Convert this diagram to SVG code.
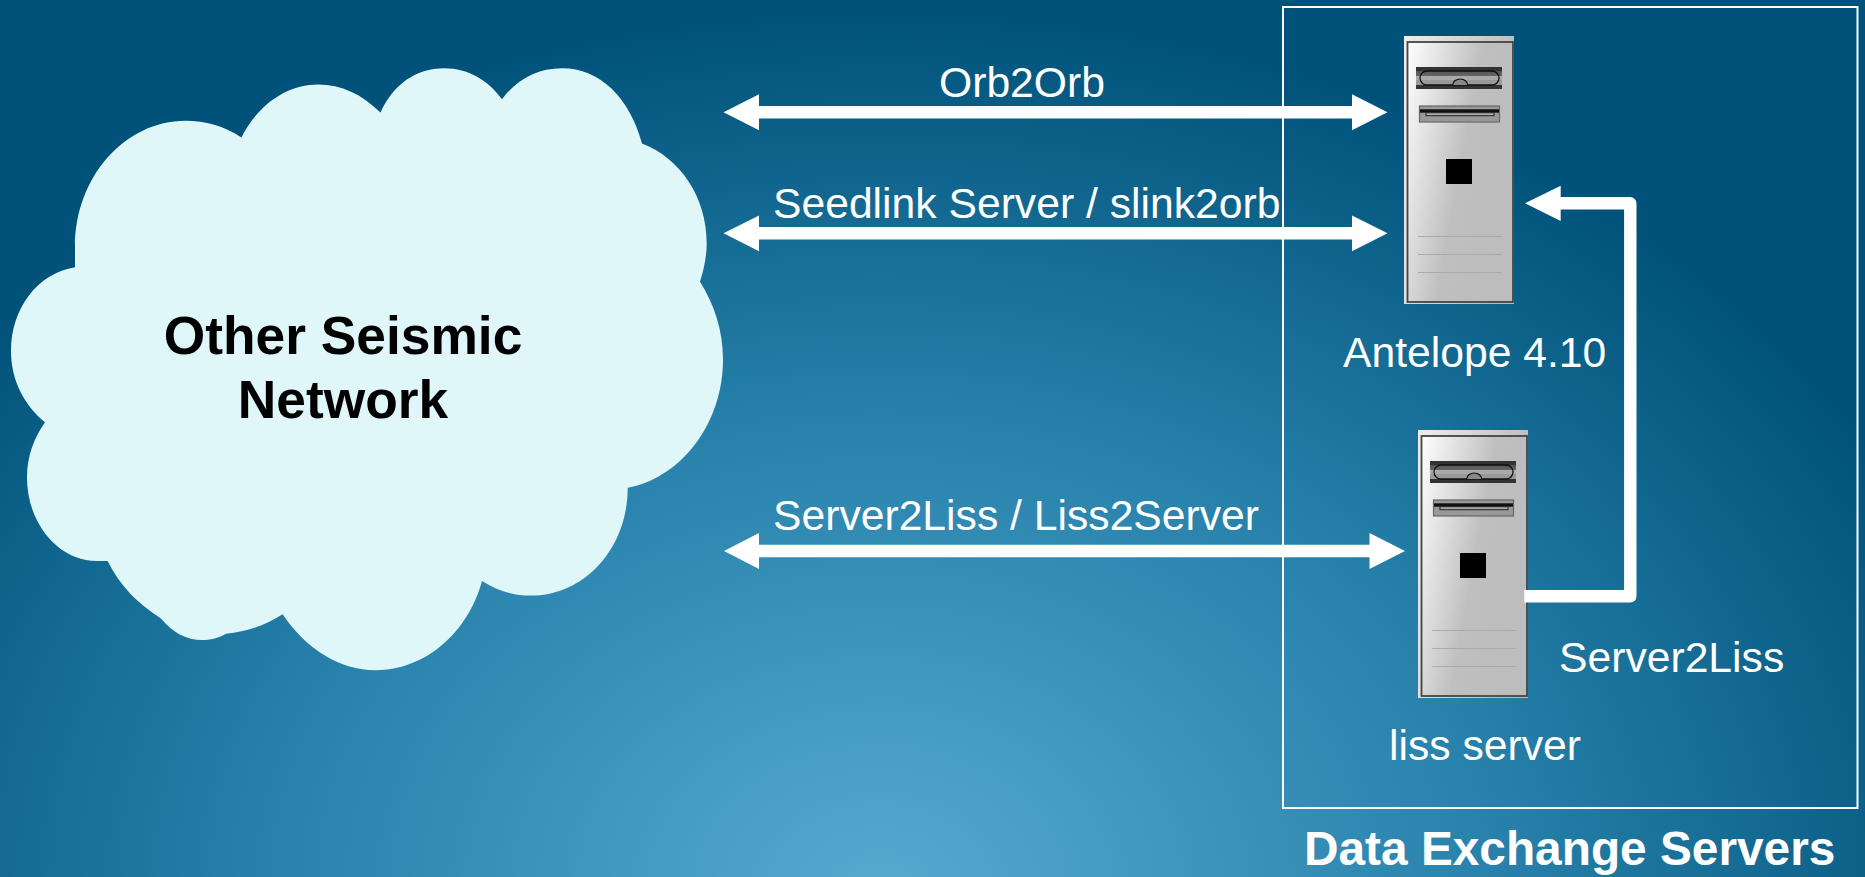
<svg xmlns="http://www.w3.org/2000/svg" width="1865" height="877" viewBox="0 0 1865 877">
<style>
text{font-family:"Liberation Sans",Arial,sans-serif}
.l{font-size:42.67px;fill:#fff}
.b{font-size:53.33px;font-weight:bold;fill:#000;text-anchor:middle}
.c{fill:none;stroke:#fff;stroke-width:12.4}
.h{fill:#fff}
</style>
<defs>
<radialGradient id="bg" gradientUnits="userSpaceOnUse" cx="0" cy="0" r="1" gradientTransform="translate(880 890) scale(1150 880)">
<stop offset="0" stop-color="#55aad2"/><stop offset="0.55" stop-color="#2680a9"/><stop offset="1" stop-color="#00527a"/>
</radialGradient>
<linearGradient id="case" x1="0" y1="0" x2="1" y2="0.45">
<stop offset="0" stop-color="#fff"/><stop offset="0.6" stop-color="#bfbfbf"/><stop offset="1" stop-color="#bdbdbd"/>
</linearGradient>
<linearGradient id="shell" x1="0" y1="0" x2="1" y2="0.3">
<stop offset="0" stop-color="#eee"/><stop offset="1" stop-color="#bbb"/>
</linearGradient>
<linearGradient id="bay" x1="0" y1="0" x2="0" y2="1">
<stop offset="0" stop-color="#333"/><stop offset="0.18" stop-color="#333"/><stop offset="0.19" stop-color="#555"/><stop offset="0.41" stop-color="#666"/><stop offset="0.42" stop-color="#aaa"/><stop offset="0.6" stop-color="#aaa"/><stop offset="0.61" stop-color="#999"/><stop offset="0.81" stop-color="#999"/><stop offset="0.82" stop-color="#333"/><stop offset="1" stop-color="#333"/>
</linearGradient>
<g id="srv">
<rect x="0" y="0" width="110" height="268" fill="url(#shell)"/>
<rect x="3.500" y="6" width="105.500" height="260" fill="url(#case)" stroke="#444" stroke-width="1.800"/>
<rect x="12" y="31" width="86" height="22" fill="url(#bay)"/>
<rect x="16" y="35" width="79" height="14" rx="7" fill="none" stroke="#111" stroke-width="1.300"/>
<path d="M48.700 49a7.500 6 0 0 1 15 0" fill="#888" stroke="#111" stroke-width="1.200"/>
<rect x="15.500" y="70" width="80" height="16" fill="#999" stroke="#666" stroke-width="1.200"/>
<rect x="16" y="73.300" width="79" height="3.400" fill="#111"/>
<rect x="22" y="76.700" width="68" height="3" fill="#aaa" stroke="#222" stroke-width="1"/>
<rect x="42" y="123" width="26" height="25" fill="#000"/>
<path d="M14 200.500h84M14 218.500h84M14 236.500h84" stroke="#aaa" stroke-width="1"/>
</g>
</defs>
<rect id="background" width="1865" height="877" fill="url(#bg)"/>
<g id="data-exchange-servers">
<rect x="1283" y="7" width="574.500" height="801" fill="none" stroke="#fff" stroke-width="2"/>
<text x="1304" y="865" style="font-size:47.800px;font-weight:bold;fill:#fff">Data Exchange Servers</text>
</g>
<g id="other-seismic-network">
<path fill="#e0f7fa" d="M241.400 137.400C224 126 205 120.800 185.600 120.800C125 120.800 75 177 75 247C75 254 75 260 75 267.200C38 273 11 308 11 351C11 380 24 405 45 422.300C34 438 27 456 27 477.400C27 523 58 561 97 561C101 561 104 561 107.600 561C120 586 138 604 161 618.400C172 632 186 640 202.600 640C212 640 220 637 226 633.700C247 632 266 625 282.600 614.200C306 649 340 670.200 375.700 670.200C425 670.200 468 633 482 581C496 590 512 595.600 531 595.600C585 595.600 627.700 548 627.700 487.800C680 478 723 425 723 359.200C723 330 714 304 700 281.700C704 269 706.700 256 706.700 243.200C706.700 197 680 158 642 143.600C630 98 600 68.200 562 68.200C537 68.200 516 80 502 99.300C488 80 468 68.200 444.500 68.200C415 68.200 393 85 380.500 112.600C362 94 341 84.400 318.500 84.400C286 84.400 258 105 241.400 137.400Z"/>
<text class="b"><tspan x="343" y="354">Other Seismic</tspan><tspan x="343" y="418">Network</tspan></text>
</g>
<g id="antelope">
<use href="#srv" x="1404" y="36"/>
<text class="l" x="1343" y="367">Antelope 4.10</text>
</g>
<g id="liss-server">
<use href="#srv" x="1418" y="430"/>
<text class="l" x="1389" y="760">liss server</text>
</g>
<g id="connectors">
<path class="c" d="M755 112.300H1356"/>
<path class="h" d="M723.500 112.300L759 94.300V130.300ZM1387.500 112.300L1352 94.300V130.300Z"/>
<path class="c" d="M755 233.300H1356"/>
<path class="h" d="M723.500 233.300L759 215.500V251.200ZM1387.500 233.300L1352 215.500V251.200Z"/>
<path class="c" d="M755 551H1373"/>
<path class="h" d="M724 551L759 533V569ZM1405 551L1369.500 533V569Z"/>
<path class="c" stroke-linejoin="round" d="M1524.300 596.300H1630.300V203.300H1555"/>
<path class="h" d="M1525 203.300L1560.700 185.700V221Z"/>
</g>
<g id="connector-labels">
<text class="l" x="939" y="97">Orb2Orb</text>
<text class="l" x="773" y="218">Seedlink Server / slink2orb</text>
<text class="l" x="773" y="530">Server2Liss / Liss2Server</text>
<text class="l" x="1559" y="672">Server2Liss</text>
</g>
</svg>
